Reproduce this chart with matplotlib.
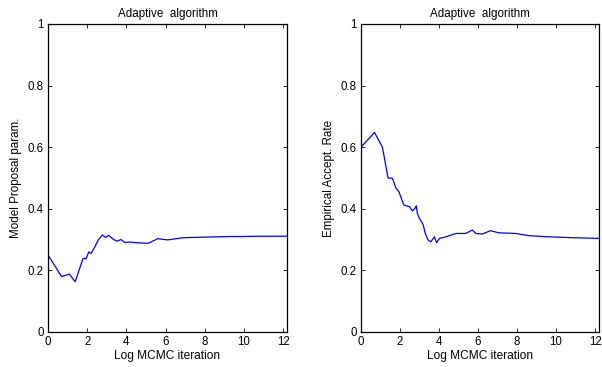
import matplotlib.pyplot as plt
import numpy as np

plt.rcParams['font.family'] = ['Liberation Sans', 'DejaVu Sans']

# Left panel: model proposal parameter vs MCMC iteration
prop_iter = [1, 2, 3, 4, 6, 7, 8, 9, 11, 13, 16, 19, 22, 27, 33, 42, 50, 65, 90,
             120, 165, 210, 270, 450, 700, 970, 1500, 3000, 6000, 10000, 20000,
             50000, 100000, 200000]
prop_vals = [0.25, 0.18, 0.188, 0.163, 0.239, 0.238, 0.26, 0.255, 0.277, 0.299,
             0.315, 0.307, 0.314, 0.303, 0.295, 0.300, 0.291, 0.292, 0.290,
             0.289, 0.288, 0.295, 0.303, 0.299, 0.303, 0.306, 0.307, 0.308,
             0.309, 0.310, 0.310, 0.311, 0.311, 0.311]

# Right panel: empirical acceptance rate vs MCMC iteration
acc_iter = [1, 2, 3, 4, 5, 6, 7, 9, 12, 14, 16, 17, 18, 20, 24, 27, 31, 36, 43,
            48, 56, 78, 130, 215, 300, 360, 500, 760, 1180, 2750, 5400, 14700,
            58000, 200000]
acc_vals = [0.60, 0.648, 0.60, 0.50, 0.499, 0.467, 0.455, 0.412, 0.407, 0.393,
            0.402, 0.410, 0.385, 0.369, 0.35, 0.32, 0.299, 0.293, 0.309, 0.29,
            0.304, 0.309, 0.32, 0.32, 0.331, 0.32, 0.318, 0.329, 0.322, 0.32,
            0.313, 0.309, 0.306, 0.304]

fig = plt.figure(figsize=(6.02, 3.67), dpi=100)
ax1 = fig.add_axes([48 / 602, 35 / 367, 239 / 602, 308 / 367])
ax2 = fig.add_axes([361 / 602, 35 / 367, 238 / 602, 308 / 367])

panels = [(ax1, prop_iter, prop_vals, 'Model Proposal param.'),
          (ax2, acc_iter, acc_vals, 'Empirical Accept. Rate')]

for ax, it, vals, ylab in panels:
    ax.plot(np.log(it), vals, color='#0000ff', linewidth=0.9)
    ax.set_xlim(0, 12.2)
    ax.set_ylim(0, 1)
    ax.set_xticks([0, 2, 4, 6, 8, 10, 12])
    ax.set_yticks([0, 0.2, 0.4, 0.6, 0.8, 1])
    ax.set_yticklabels(['0', '0.2', '0.4', '0.6', '0.8', '1'])
    ax.tick_params(direction='in', top=True, right=True, length=3, width=0.6,
                   labelsize=8.3, pad=3)
    for s in ax.spines.values():
        s.set_linewidth(0.9)
    ax.set_title('Adaptive  algorithm', fontsize=8.4, pad=5)
    ax.set_xlabel('Log MCMC iteration', fontsize=8.6, labelpad=1)
    ax.set_ylabel(ylab, fontsize=8.4, labelpad=4)

plt.savefig('out.png', dpi=100)
